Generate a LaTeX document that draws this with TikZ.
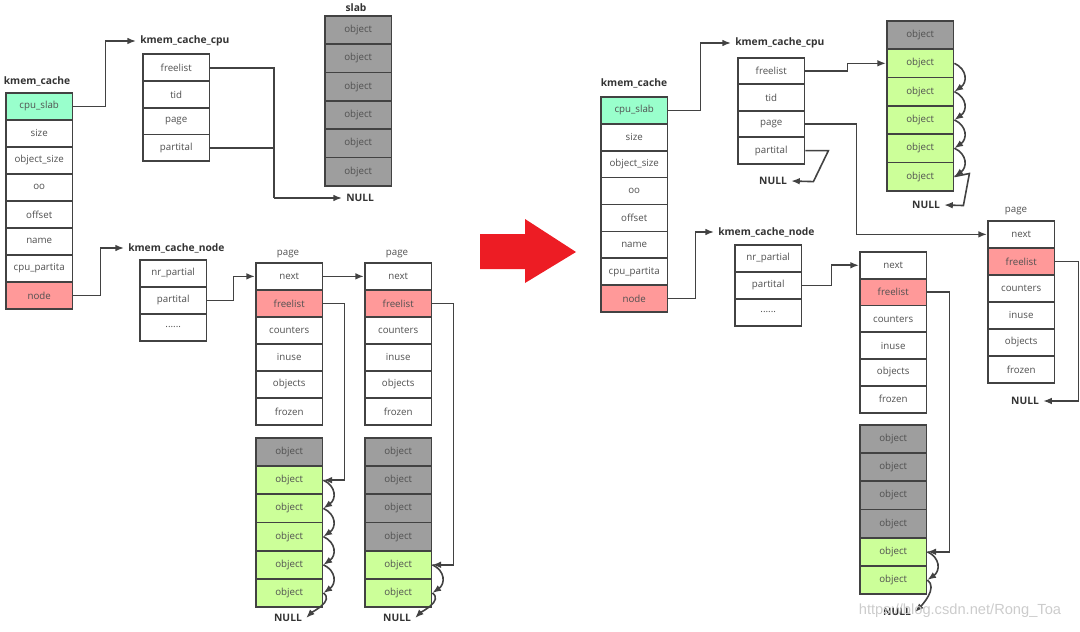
\documentclass[tikz,border=0pt]{standalone}
\usepackage{fontspec}
\setmainfont{Open Sans}
\newfontfamily\wmfont{Liberation Sans}
\usetikzlibrary{arrows.meta}
\definecolor{bc}{HTML}{424242}
\definecolor{tc}{HTML}{505050}
\definecolor{cmint}{HTML}{99FFCC}
\definecolor{cpink}{HTML}{FF9999}
\definecolor{cgreen}{HTML}{CCFF99}
\definecolor{cgray}{HTML}{9E9E9E}
\definecolor{redarr}{HTML}{ED1C24}
\newcommand\sixdots{......}
\tikzset{
 cell/.style={draw=bc, line width=1.3pt, minimum width=50pt, inner sep=0pt, anchor=north west, text=tc, font=\fontsize{7.3}{8}\selectfont},
 fw/.style={fill=white}, fm/.style={fill=cmint}, fr/.style={fill=cpink}, fg/.style={fill=cgreen}, fk/.style={fill=cgray},
 ttl/.style={font=\bfseries\fontsize{7.7}{9}\selectfont, text=black!80, inner sep=3pt},
 lbl/.style={font=\fontsize{7.3}{8}\selectfont, text=tc, inner sep=1pt},
 ln/.style={draw=bc, line width=1.2pt},
 arr/.style={ln, -{Latex[length=6.5pt,width=5pt]}},
}
\newcommand\mkcol[5]{%
 \foreach [count=\ci] \ctext/\cstyle in {#5} {%
  \node[cell,\cstyle,minimum height=#4*0.75pt] (#1\ci) at (#2,{#3+(\ci-1)*#4}) {\ctext};}}
\newcommand\curv[2]{\draw[arr] (#1.east) .. controls +(13,6) and +(13,-9) .. (#2.east);}
\begin{document}
\begin{tikzpicture}[x=0.75pt,y=-0.75pt]
\useasboundingbox (0,0) rectangle (1080,631);

% ================= LEFT =================
\node[ttl] (Lkct) at (37,81) {kmem\_cache};
\mkcol{Lkc}{5}{92}{27}{cpu\_slab/fm, size/fw, object\_size/fw, oo/fw, offset/fw, name/fw, cpu\_partita/fw, node/fr}

\node[ttl,anchor=west] (Lcput) at (136,41) {kmem\_cache\_cpu};
\draw[arr] (Lkc1.east) -- ++(32,0) |- (Lcput.west);
\mkcol{Lcpu}{142}{53.5}{26.7}{freelist/fw, tid/fw, page/fw, partital/fw}

\node[ttl] (Lslt) at (356,8) {slab};
\mkcol{Ls}{324}{15}{28.3}{object/fk, object/fk, object/fk, object/fk, object/fk, object/fk}

\coordinate (Lj) at (274,198);
\node[ttl,anchor=west] (Ln1) at (342,198) {NULL};
\draw[ln] (Lcpu1.east) -| (Lj);
\draw[ln] (Lcpu4.east) -| (Lj);
\draw[arr] (Lj) -- (Ln1.west);

\node[ttl,anchor=west] (Lnodet) at (124,248) {kmem\_cache\_node};
\draw[arr] (Lkc8.east) -- ++(27,0) |- (Lnodet.west);
\mkcol{Lcn}{139}{259}{27}{nr\_partial/fw, partital/fw, \sixdots/fw}

\node[lbl] (Lp1t) at (288,254) {page};
\mkcol{Lpa}{255}{262}{27}{next/fw, freelist/fr, counters/fw, inuse/fw, objects/fw, frozen/fw}
\mkcol{Lpao}{255}{437}{28.2}{object/fk, object/fg, object/fg, object/fg, object/fg, object/fg}
\node[lbl] (Lp2t) at (397,254) {page};
\mkcol{Lpb}{364}{262}{27}{next/fw, freelist/fr, counters/fw, inuse/fw, objects/fw, frozen/fw}
\mkcol{Lpbo}{364}{437}{28.2}{object/fk, object/fk, object/fk, object/fk, object/fg, object/fg}

\draw[arr] (Lcn2.east) -- ++(26,0) |- (Lpa1.west);
\draw[arr] (Lpa1.east) -- (Lpb1.west);
\draw[arr] (Lpa2.east) -- ++(21,0) |- (Lpao2.east);
\draw[arr] (Lpb2.east) -- ++(21,0) |- (Lpbo5.east);
\curv{Lpao2}{Lpao3}
\curv{Lpao3}{Lpao4}
\curv{Lpao4}{Lpao5}
\curv{Lpao5}{Lpao6}
\curv{Lpbo5}{Lpbo6}
\node[ttl] (Ln2) at (288,618) {NULL};
\node[ttl] (Ln3) at (397,618) {NULL};
\draw[arr] (Lpao6.east) .. controls +(11,8) and +(6,-6) .. (Ln2.east);
\draw[arr] (Lpbo6.east) .. controls +(11,8) and +(6,-6) .. (Ln3.east);

% ================= RED ARROW =================
\fill[redarr] (480,234) -- (525,234) -- (525,219) -- (576,252) -- (525,283) -- (525,269) -- (480,269) -- cycle;

% ================= RIGHT =================
\node[ttl] (Rkct) at (634,83) {kmem\_cache};
\mkcol{Rkc}{600}{96}{26.9}{cpu\_slab/fm, size/fw, object\_size/fw, oo/fw, offset/fw, name/fw, cpu\_partita/fw, node/fr}

\node[ttl,anchor=west] (Rcput) at (731,43) {kmem\_cache\_cpu};
\draw[arr] (Rkc1.east) -- ++(32,0) |- (Rcput.west);
\mkcol{Rcpu}{737}{57}{26.5}{freelist/fw, tid/fw, page/fw, partital/fw}

\mkcol{Ro}{886}{20}{28.3}{object/fk, object/fg, object/fg, object/fg, object/fg, object/fg}
\draw[arr] (Rcpu1.east) -- ++(42,0) |- (Ro2.west);
\curv{Ro2}{Ro3}
\curv{Ro3}{Ro4}
\curv{Ro4}{Ro5}
\curv{Ro5}{Ro6}
\node[ttl] (Rn1) at (926,205) {NULL};
\draw[arr] (Ro6.east) -- ++(15,-3) -- ++(-6,32) -- (Rn1.east);

\node[ttl] (Rn0) at (773,181) {NULL};
\draw[arr] (Rcpu4.east) -- ++(23,0) -- ++(-15,31) -- (Rn0.east);

\node[lbl] (Rp2t) at (1016,211) {page};
\mkcol{Rpb}{987}{220}{27}{next/fw, freelist/fr, counters/fw, inuse/fw, objects/fw, frozen/fw}
\draw[arr] (Rcpu3.east) -- ++(51,0) |- (Rpb1.west);
\node[ttl] (Rn3) at (1025,401) {NULL};
\draw[arr] (Rpb2.east) -- ++(23,0) |- (Rn3.east);

\node[ttl,anchor=west] (Rnodet) at (714,232) {kmem\_cache\_node};
\draw[arr] (Rkc8.east) -- ++(27,0) |- (Rnodet.west);
\mkcol{Rcn}{734}{244}{27}{nr\_partial/fw, partital/fw, \sixdots/fw}

\mkcol{Rpa}{859}{251}{26.8}{next/fw, freelist/fr, counters/fw, inuse/fw, objects/fw, frozen/fw}
\mkcol{Rpao}{859}{424}{28.2}{object/fk, object/fk, object/fk, object/fk, object/fg, object/fg}
\draw[arr] (Rcn2.east) -- ++(29,0) |- (Rpa1.west);
\draw[arr] (Rpa2.east) -- ++(22,0) |- (Rpao5.east);
\curv{Rpao5}{Rpao6}
\node[ttl] (Rn4) at (897,612) {NULL};
\draw[arr] (Rpao6.east) .. controls +(11,8) and +(6,-6) .. (Rn4.east);

% watermark (overlaps the NULL below it, as in the reference)
\node[font=\wmfont\fontsize{11}{12}\selectfont, text=black!20] (wm) at (960,611) {https://blog.csdn.net/Rong\_Toa};
\end{tikzpicture}
\end{document}
